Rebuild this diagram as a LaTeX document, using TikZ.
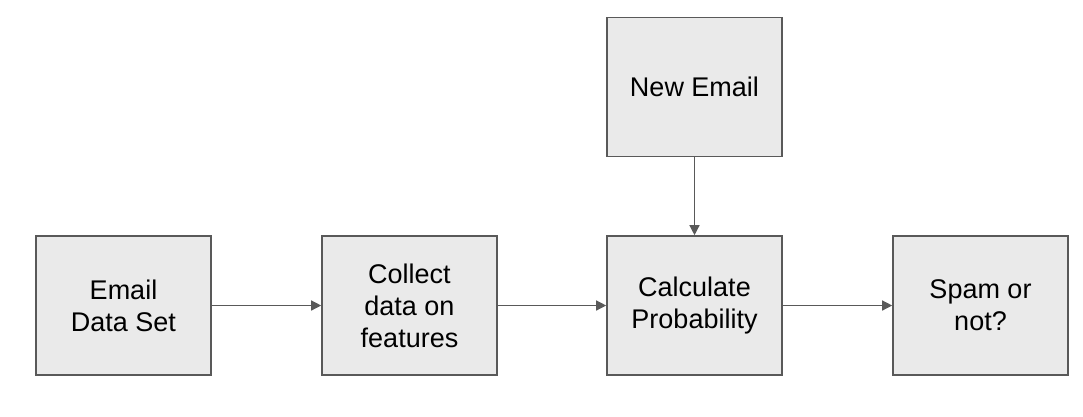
\documentclass[tikz,border=0pt]{standalone}
\usepackage{fontspec}
\setmainfont{Liberation Sans}
\usetikzlibrary{arrows.meta}
\definecolor{boxfill}{HTML}{EAEAEA}
\definecolor{boxline}{HTML}{595959}
\tikzset{
  stepbox/.style={draw=boxline, fill=boxfill, line width=1.6pt, minimum width=175pt, minimum height=139pt, inner sep=0pt, align=center, font=\fontsize{27}{32}\selectfont},
  conn/.style={draw=boxline, line width=1.3pt, -{Triangle[length=10pt,width=10pt]}}
}
\begin{document}
\begin{tikzpicture}[x=1pt,y=-1pt]
\useasboundingbox (0,0) rectangle (1083,416);
\node[stepbox] (eds) at (123.5,305.5) {Email\\Data Set};
\node[stepbox] (col) at (409.5,305.5) {Collect\\data on\\features};
\node[stepbox] (calc) at (694.5,305.5) {Calculate\\Probability};
\node[stepbox] (spam) at (980.5,305.5) {Spam or\\not?};
\node[stepbox] (new) at (694.5,87) {New Email};
\draw[conn] (eds) -- (col);
\draw[conn] (col) -- (calc);
\draw[conn] (calc) -- (spam);
\draw[conn] (new) -- (calc);
\end{tikzpicture}
\end{document}
